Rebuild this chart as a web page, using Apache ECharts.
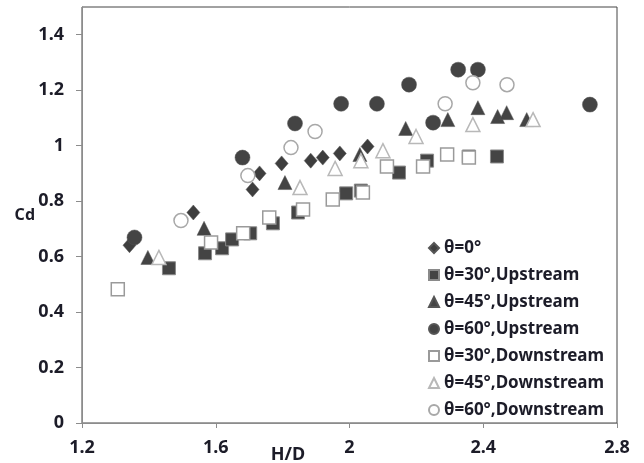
<!DOCTYPE html>
<html>
<head>
<meta charset="utf-8">
<script src="https://cdn.jsdelivr.net/npm/echarts@6/dist/echarts.min.js"></script>
<style>html,body{margin:0;padding:0;background:#fff;}#c{width:644px;height:463px;}</style>
</head>
<body>
<div id="c"></div>
<script>
// Tick labels
var xTicks = [1.2, 1.6, 2.0, 2.4, 2.8];
var yTicks = [0, 0.2, 0.4, 0.6, 0.8, 1.0, 1.2, 1.4];

// Series names
var seriesNames = ['θ=0°', 'θ=30°,Upstream', 'θ=45°,Upstream', 'θ=60°,Upstream',
                   'θ=30°,Downstream', 'θ=45°,Downstream', 'θ=60°,Downstream'];

// Data [H/D, Cd]
var theta0 = [[1.342,0.641],[1.533,0.759],[1.710,0.842],[1.731,0.900],[1.797,0.936],[1.884,0.946],[1.920,0.957],[1.971,0.972],[2.054,0.997]];
var theta30Up = [[1.460,0.558],[1.568,0.612],[1.619,0.630],[1.649,0.662],[1.703,0.684],[1.771,0.720],[1.846,0.759],[1.990,0.828],[2.034,0.838],[2.148,0.903],[2.232,0.946],[2.357,0.961],[2.441,0.961]];
var theta45Up = [[1.397,0.597],[1.565,0.702],[1.807,0.867],[2.031,0.968],[2.168,1.062],[2.294,1.094],[2.384,1.137],[2.443,1.105],[2.470,1.119],[2.530,1.094]];
var theta60Up = [[1.357,0.669],[1.680,0.957],[1.837,1.080],[1.975,1.151],[2.082,1.151],[2.178,1.220],[2.250,1.083],[2.325,1.274],[2.384,1.274],[2.719,1.148]];
var theta30Down = [[1.307,0.482],[1.586,0.651],[1.682,0.684],[1.760,0.741],[1.861,0.770],[1.950,0.806],[2.040,0.831],[2.112,0.925],[2.220,0.925],[2.292,0.968],[2.357,0.957]];
var theta45Down = [[1.430,0.597],[1.852,0.849],[1.957,0.918],[2.034,0.946],[2.100,0.982],[2.199,1.033],[2.369,1.076],[2.549,1.094]];
var theta60Down = [[1.496,0.730],[1.696,0.892],[1.825,0.993],[1.897,1.051],[2.286,1.151],[2.369,1.227],[2.471,1.220]];

var DARK = '#444444';
var txt = '#1c1c28';
var font = '"Noto Sans", sans-serif';

function fmt(v){ return String(Math.round(v*10)/10); }

var chart = echarts.init(document.getElementById('c'), null, {renderer:'canvas'});
chart.setOption({
  animation: false,
  backgroundColor: '#fff',
  grid: { left: 82, right: 27, top: 7, bottom: 40, outerBoundsMode: 'none', containLabel: false,
          show: true, borderColor: '#444', borderWidth: 1, backgroundColor: 'transparent' },
  xAxis: {
    type: 'value', min: 1.2, max: 2.8, interval: 0.4,
    name: 'H/D', nameLocation: 'middle', nameGap: 23, nameMoveOverlap: false,
    nameTextStyle: { color: txt, fontFamily: font, fontWeight: 'bold', fontSize: 18, padding: [0,123,0,0] },
    axisLine: { show: true, onZero: false, lineStyle: { color: '#8c8c8c', width: 1 } },
    axisTick: { show: true, inside: false, length: 5, lineStyle: { color: '#8c8c8c' }, customValues: xTicks },
    axisLabel: { color: txt, fontFamily: font, fontWeight: 'bold', fontSize: 18, margin: 16, customValues: xTicks, formatter: fmt, hideOverlap: false },
    splitLine: { show: false }
  },
  yAxis: {
    type: 'value', min: 0, max: 1.5, interval: 0.2,
    name: 'Cd', nameLocation: 'middle', nameGap: 47, nameRotate: 0, nameMoveOverlap: false,
    nameTextStyle: { color: txt, fontFamily: font, fontWeight: 'bold', fontSize: 16, padding: [0,0,6,0] },
    axisLine: { show: true, onZero: false, lineStyle: { color: '#8c8c8c', width: 1 } },
    axisTick: { show: true, inside: false, length: 6, lineStyle: { color: '#8c8c8c' }, customValues: yTicks },
    axisLabel: { color: txt, fontFamily: font, fontWeight: 'bold', fontSize: 18, margin: 18, customValues: yTicks, formatter: fmt },
    splitLine: { show: false }
  },
  legend: {
    orient: 'vertical', left: 423, top: 234, itemGap: 9, itemWidth: 10, itemHeight: 10,
    data: seriesNames,
    textStyle: { color: txt, fontFamily: font, fontWeight: 'bold', fontSize: 17, lineHeight: 18 }
  },
  series: [
    { name: seriesNames[0], type: 'scatter', data: theta0, symbol: 'diamond', symbolSize: [13,15],
      itemStyle: { color: '#3e3e3e', borderColor: '#555', borderWidth: 0.5, opacity: 1 } },
    { name: seriesNames[1], type: 'scatter', data: theta30Up, symbol: 'rect', symbolSize: 13,
      itemStyle: { color: DARK, borderColor: '#8a8a8a', borderWidth: 1, opacity: 1 } },
    { name: seriesNames[2], type: 'scatter', data: theta45Up, symbol: 'triangle', symbolSize: [14,14],
      itemStyle: { color: DARK, borderColor: '#555', borderWidth: 0.5, opacity: 1 } },
    { name: seriesNames[3], type: 'scatter', data: theta60Up, symbol: 'circle', symbolSize: 15,
      itemStyle: { color: DARK, borderColor: '#555', borderWidth: 0.5, opacity: 1 } },
    { name: seriesNames[4], type: 'scatter', data: theta30Down, symbol: 'rect', symbolSize: 13,
      itemStyle: { color: '#ffffff', borderColor: '#9a9a9a', borderWidth: 1.5, opacity: 1 } },
    { name: seriesNames[5], type: 'scatter', data: theta45Down, symbol: 'triangle', symbolSize: [14,14],
      itemStyle: { color: '#ffffff', borderColor: '#b8b8b8', borderWidth: 1.5, opacity: 1 } },
    { name: seriesNames[6], type: 'scatter', data: theta60Down, symbol: 'circle', symbolSize: 14,
      itemStyle: { color: '#ffffff', borderColor: '#a8a8a8', borderWidth: 1.5, opacity: 1 } }
  ]
});
</script>
</body>
</html>
